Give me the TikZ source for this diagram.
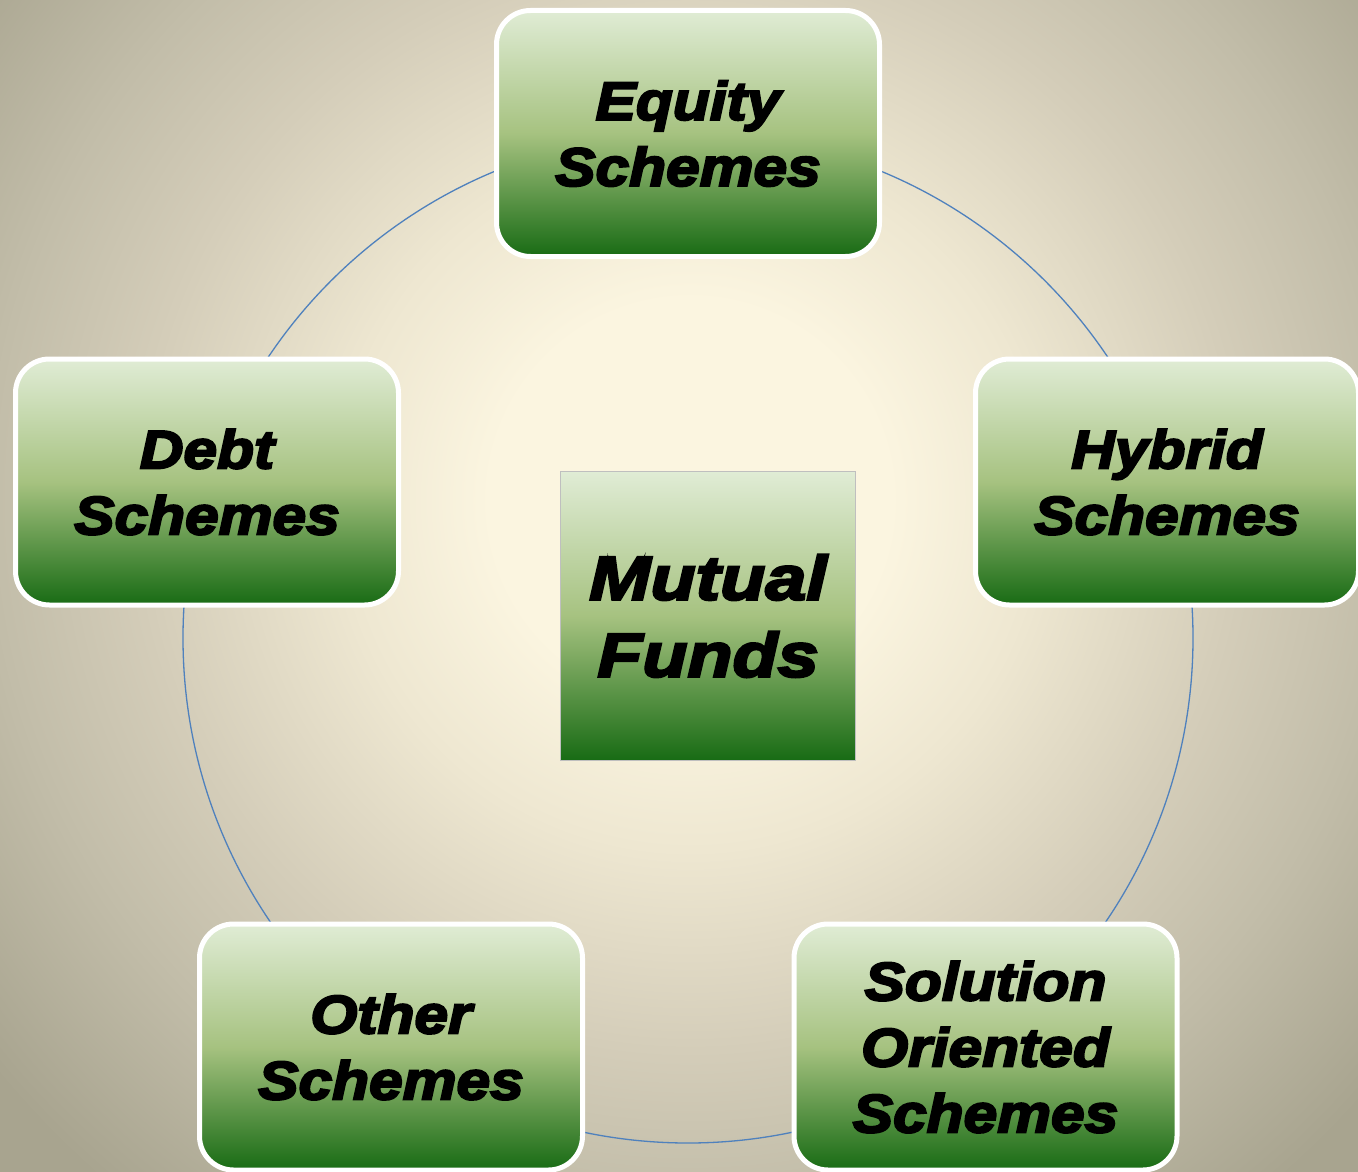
\documentclass[tikz,border=0pt]{standalone}
\usepackage{fontspec}
\newfontfamily\heavy{Liberation Sans}[BoldItalicFeatures={FakeBold=4,FakeStretch=1.12}]
\newfontfamily\heavyhub{Liberation Sans}[BoldItalicFeatures={FakeBold=4,FakeStretch=1.19}]
\usetikzlibrary{shadings}
\definecolor{bgin}{HTML}{FBF5E0}
\definecolor{bgb}{HTML}{EEE7D1}
\definecolor{bgc}{HTML}{D4CDB9}
\definecolor{bgd}{HTML}{C2BDA9}
\definecolor{bge}{HTML}{A8A48F}
\definecolor{bgout}{HTML}{A09C88}
\definecolor{gtop}{HTML}{E0ECD5}
\definecolor{gmid}{HTML}{A6C280}
\definecolor{gbot}{HTML}{186B14}
\definecolor{ringblue}{HTML}{4F81BD}
\pgfdeclareradialshading{bgshade}{\pgfpoint{0bp}{0bp}}{color(0bp)=(bgin); color(5bp)=(bgin); color(8.75bp)=(bgb); color(13.75bp)=(bgc); color(17.5bp)=(bgd); color(22.5bp)=(bge); color(50bp)=(bgout)}
\tikzset{
  scheme/.style={rectangle, rounded corners=34pt, draw=white, line width=5pt,
    top color=gtop, bottom color=gbot, middle color=gmid,
    minimum width=383pt, minimum height=246pt, inner sep=0pt, align=center,
    font=\heavy\bfseries\itshape\fontsize{54}{66}\selectfont},
  hub/.style={rectangle, draw=black!25, line width=1.5pt,
    top color=gtop, bottom color=gbot, middle color=gmid,
    minimum width=295pt, minimum height=289pt, inner sep=0pt, align=center,
    font=\heavyhub\bfseries\itshape\fontsize{62}{77}\selectfont},
  ring/.style={draw=ringblue, line width=1.3pt}
}
\begin{document}
\begin{tikzpicture}[x=1pt,y=-1pt]
\useasboundingbox (0,0) rectangle (1358,1172);
\begin{scope}
\clip (0,0) rectangle (1358,1172);
\shade[shading=bgshade] (690-1000,500-1000) rectangle (690+1000,500+1000);
\end{scope}
\node[hub] (mf) at (708,616) {Mutual\\Funds};
\coordinate (c) at (688,638);
\draw[ring] (c) circle[radius=505pt];
\node[scheme] (eq) at (688,133.5) {Equity\\Schemes};
\node[scheme] (hy) at (1167,482) {Hybrid\\Schemes};
\node[scheme] (db) at (207,482) {Debt\\Schemes};
\node[scheme] (ot) at (391,1047) {Other\\Schemes};
\node[scheme] (so) at (985.5,1047) {Solution\\Oriented\\Schemes};
\end{tikzpicture}
\end{document}
